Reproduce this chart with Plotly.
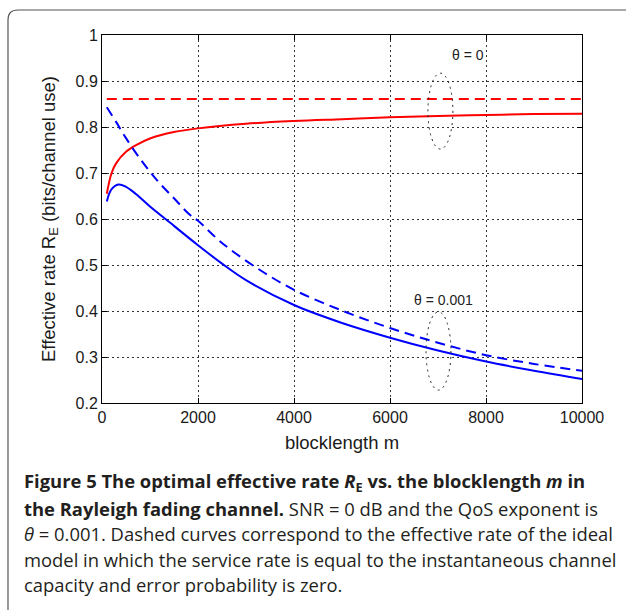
import plotly.graph_objects as go

# ---- data ----
m_red_solid = [100, 200, 300, 500, 700, 1000, 1500, 2000, 3000, 4000, 5000, 6000, 7000, 8000, 9000, 10000]
red_solid = [0.655, 0.700, 0.722, 0.746, 0.760, 0.775, 0.789, 0.797, 0.807, 0.813, 0.817, 0.821, 0.824, 0.826, 0.828, 0.829]

m_red_dash = [100, 10000]
red_dash = [0.861, 0.861]

m_blue_solid = [100, 150, 200, 340, 500, 700, 1000, 1500, 2000, 2500, 3000, 4000, 5000, 6000, 7000, 8000, 9000, 10000]
blue_solid = [0.638, 0.655, 0.665, 0.675, 0.670, 0.655, 0.627, 0.585, 0.543, 0.503, 0.467, 0.413, 0.374, 0.342, 0.314, 0.290, 0.270, 0.252]

m_blue_dash = [100, 300, 480, 800, 1140, 1500, 1830, 2000, 2500, 3190, 4000, 5000, 6000, 7000, 8000, 9000, 10000]
blue_dash = [0.843, 0.810, 0.779, 0.730, 0.685, 0.645, 0.609, 0.596, 0.548, 0.496, 0.446, 0.401, 0.363, 0.331, 0.304, 0.285, 0.270]

x_ticks = [0, 2000, 4000, 6000, 8000, 10000]
y_ticks = [0.2, 0.3, 0.4, 0.5, 0.6, 0.7, 0.8, 0.9, 1.0]

caption_lines = [
    "<b>Figure 5 The optimal effective rate <i>R</i><sub>E</sub> vs. the blocklength <i>m</i> in</b>",
    "<b>the Rayleigh fading channel.</b> SNR = 0 dB and the QoS exponent is",
    "<i>θ</i> = 0.001. Dashed curves correspond to the effective rate of the ideal",
    "model in which the service rate is equal to the instantaneous channel",
    "capacity and error probability is zero.",
]

# ---- layout geometry (pixels) ----
W, H = 626, 610
L, R, T, B = 102, 582, 35, 403


def px_x(p):
    return (p - L) / (R - L)


def px_y(p):
    return (B - p) / (B - T)


fig = go.Figure()
fig.add_trace(go.Scatter(x=m_red_dash, y=red_dash, mode="lines",
                         line=dict(color="#ff0000", width=2, dash="10px,6px"), showlegend=False))
fig.add_trace(go.Scatter(x=m_red_solid, y=red_solid, mode="lines",
                         line=dict(color="#ff0000", width=2, shape="spline"), showlegend=False))
fig.add_trace(go.Scatter(x=m_blue_dash, y=blue_dash, mode="lines",
                         line=dict(color="#0000ff", width=2, dash="10px,6px", shape="spline"), showlegend=False))
fig.add_trace(go.Scatter(x=m_blue_solid, y=blue_solid, mode="lines",
                         line=dict(color="#0000ff", width=2, shape="spline"), showlegend=False))

# ellipses
fig.add_shape(type="circle", xref="x", yref="y", x0=6790, x1=7310, y0=0.752, y1=0.917,
              line=dict(color="#222", width=1, dash="2px,4px"))
fig.add_shape(type="circle", xref="x", yref="y", x0=6750, x1=7270, y0=0.228, y1=0.398,
              line=dict(color="#222", width=1, dash="2px,4px"))

fig.add_annotation(x=7615, y=0.957, xref="x", yref="y", text="θ = 0", showarrow=False,
                   font=dict(family="Liberation Sans, Arial", size=14, color="#222"))
fig.add_annotation(x=7115, y=0.424, xref="x", yref="y", text="θ = 0.001", showarrow=False,
                   font=dict(family="Liberation Sans, Arial", size=14, color="#222"))

# rounded border (open at right and bottom)
x0, y0 = px_x(8), px_y(10)
xr, yb = px_x(660), px_y(640)
rx, ry = 10 / (R - L), 10 / (B - T)
path = (f"M {x0},{yb} L {x0},{y0 - ry} Q {x0},{y0} {x0 + rx},{y0} L {xr},{y0}")
fig.add_shape(type="path", xref="paper", yref="paper", path=path,
              line=dict(color="#555", width=1.2), fillcolor="rgba(0,0,0,0)")

# caption
line_centers = [482, 508, 533.5, 559, 584.5]
for txt, cy in zip(caption_lines, line_centers):
    fig.add_annotation(x=px_x(22), y=px_y(cy), xref="paper", yref="paper", text=txt,
                       showarrow=False, xanchor="left", yanchor="middle", align="left",
                       font=dict(family="Open Sans", size=18.4, color="#231f20"))

axis_common = dict(showline=True, linecolor="black", linewidth=1, mirror="ticks",
                   ticks="inside", ticklen=5, tickcolor="black",
                   showgrid=True, gridcolor="#333", gridwidth=1, griddash="1.5px,3.5px",
                   zeroline=False,
                   tickfont=dict(family="Liberation Sans, Arial", size=16, color="#1a1a1a"))

fig.update_xaxes(range=[0, 10000], tickvals=x_ticks, ticktext=[str(v) for v in x_ticks],
                 title=dict(text="blocklength m", standoff=10,
                            font=dict(family="Liberation Sans, Arial", size=18.5, color="#1a1a1a")),
                 **axis_common)
fig.update_yaxes(range=[0.2, 1.0], tickvals=y_ticks, ticktext=[f"{v:g}" for v in y_ticks],
                 title=dict(text="Effective rate R<sub>E</sub> (bits/channel use)", standoff=15,
                            font=dict(family="Liberation Sans, Arial", size=18.5, color="#1a1a1a")),
                 **axis_common)

fig.update_layout(width=W, height=H, autosize=False,
                  margin=dict(l=L, r=W - R, t=T, b=H - B),
                  plot_bgcolor="white", paper_bgcolor="white")

fig.write_html("out.html")
